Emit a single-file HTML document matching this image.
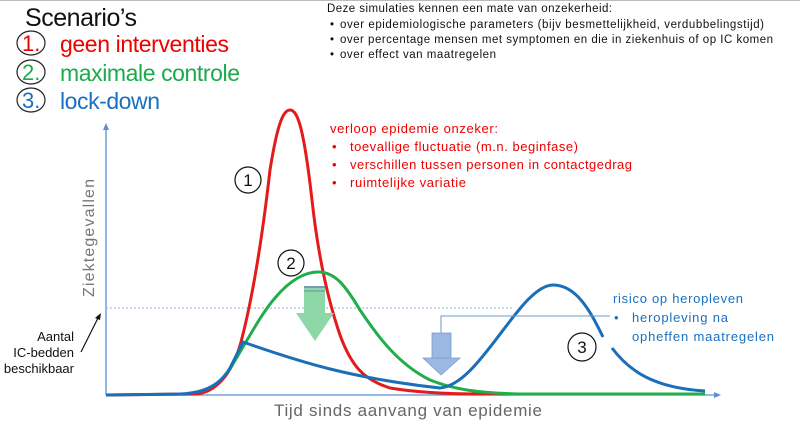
<!DOCTYPE html>
<html><head><meta charset="utf-8"><style>
html,body{margin:0;padding:0;background:#fff;}
svg{display:block;font-family:"Liberation Sans",sans-serif;}
</style></head><body>
<svg width="800" height="426" viewBox="0 0 800 426" xmlns="http://www.w3.org/2000/svg">
<line x1="0" y1="0.5" x2="800" y2="0.5" stroke="#bbb" stroke-width="1"/>
<text x="25" y="26" font-size="25" fill="#111" textLength="112">Scenario’s</text>
<ellipse cx="31" cy="43" rx="14" ry="12" fill="none" stroke="#222" stroke-width="1.2"/>
<text x="22" y="51" font-size="22" fill="#e00">1.</text>
<text x="60" y="52" font-size="23" fill="#e00" textLength="169">geen interventies</text>
<ellipse cx="31" cy="72" rx="14" ry="12" fill="none" stroke="#222" stroke-width="1.2"/>
<text x="22" y="80" font-size="22" fill="#1aaa4a">2.</text>
<text x="60" y="81" font-size="23" fill="#1aaa4a" textLength="180">maximale controle</text>
<ellipse cx="31" cy="100" rx="14" ry="12" fill="none" stroke="#222" stroke-width="1.2"/>
<text x="22" y="108" font-size="22" fill="#1a70c0">3.</text>
<text x="60" y="109" font-size="23" fill="#1a70c0" textLength="100">lock-down</text>

<g font-size="11.5" fill="#111">
<text x="327" y="12" textLength="285">Deze simulaties kennen een mate van onzekerheid:</text>
<text x="330" y="28">•</text><text x="340" y="28" textLength="424">over epidemiologische parameters (bijv besmettelijkheid, verdubbelingstijd)</text>
<text x="330" y="43">•</text><text x="340" y="43" textLength="433">over percentage mensen met symptomen en die in ziekenhuis of op IC komen</text>
<text x="330" y="58">•</text><text x="340" y="58" textLength="156">over effect van maatregelen</text>
</g>
<g font-size="13" fill="#e00">
<text x="330" y="133" textLength="168">verloop epidemie onzeker:</text>
<text x="332" y="151">•</text><text x="350" y="151" textLength="228">toevallige fluctuatie (m.n. beginfase)</text>
<text x="332" y="169">•</text><text x="350" y="169" textLength="282">verschillen tussen personen in contactgedrag</text>
<text x="332" y="187">•</text><text x="350" y="187" textLength="116">ruimtelijke variatie</text>
</g>
<g font-size="13" fill="#1a70c0">
<text x="613" y="303" textLength="130">risico op heropleven</text>
<text x="614" y="322">•</text><text x="632" y="322" textLength="96">heropleving na</text>
<text x="632" y="341" textLength="142">opheffen maatregelen</text>
</g>

<text transform="translate(94,238) rotate(-90)" text-anchor="middle" font-size="16" fill="#777" textLength="118">Ziektegevallen</text>
<text x="408" y="416" text-anchor="middle" font-size="17" fill="#666" textLength="268">Tijd sinds aanvang van epidemie</text>
<g font-size="13" fill="#111" text-anchor="end">
<text x="74" y="341">Aantal</text>
<text x="74" y="357">IC-bedden</text>
<text x="74" y="373">beschikbaar</text>
</g>
<line x1="81" y1="352" x2="98" y2="318" stroke="#111" stroke-width="1.2"/>
<polygon points="101,313 95,318 100,320" fill="#111"/>

<!-- axes -->
<line x1="106" y1="395" x2="106" y2="128" stroke="#5b8fd6" stroke-width="1.3"/>
<polygon points="106,123 103,130 109,130" fill="#5b8fd6"/>
<line x1="106" y1="395" x2="715" y2="395" stroke="#5b8fd6" stroke-width="1.3"/>
<polygon points="721,395 714,392 714,398" fill="#5b8fd6"/>
<line x1="106" y1="308" x2="512" y2="308" stroke="#8ab0e0" stroke-width="1" stroke-dasharray="2,2"/>

<!-- curves -->
<path d="M106,395 L195,394 C215,393 232,375 241,342 C252,300 262,240 270,170 C278,120 284,110 290,110 C298,110 304,130 312,200 C318,255 328,300 340,335 C352,368 365,380 390,388 C420,393 450,394 480,394 L705,394" fill="none" stroke="#e41b1b" stroke-width="3"/>
<path d="M228,372 C245,345 260,315 275,298 C290,280 305,272 318,272 C335,272 345,285 360,310 C380,340 400,365 430,380 C455,390 480,393 520,394 L705,394" fill="none" stroke="#1fae4a" stroke-width="3"/>
<path d="M106,395 L180,394 C205,393 220,385 230,368 L243,342 C300,362 350,378 440,388 C480,385 520,285 553,285 C578,285 592,315 603,337 M612,348 C630,372 655,388 705,391" fill="none" stroke="#1a6fb8" stroke-width="3"/>

<!-- arrows -->
<rect x="304" y="286" width="21" height="27" fill="#8ed8a8"/>
<line x1="304" y1="287" x2="325" y2="287" stroke="#6a8ab0" stroke-width="1.5"/>
<line x1="304" y1="291" x2="325" y2="291" stroke="#6a8ab0" stroke-width="1"/>
<polygon points="296,313 334,313 315,341" fill="#8ed8a8"/>
<polyline points="441,333 441,316 610,316" fill="none" stroke="#6a98d0" stroke-width="1"/>
<rect x="432" y="333" width="19" height="25" fill="#9db8e0" stroke="#7a9cd0" stroke-width="0.8"/>
<polygon points="423,358 460,358 441,375" fill="#9db8e0" stroke="#7a9cd0" stroke-width="0.8"/>

<!-- circles -->
<g fill="#fff" stroke="#111" stroke-width="1.2">
<circle cx="248" cy="180" r="13"/>
<circle cx="291" cy="263" r="13"/>
<circle cx="582" cy="347" r="14"/>
</g>
<g font-size="17" fill="#111" text-anchor="middle">
<text x="248" y="186">1</text>
<text x="291" y="269">2</text>
<text x="582" y="353">3</text>
</g>
</svg>
</body></html>
